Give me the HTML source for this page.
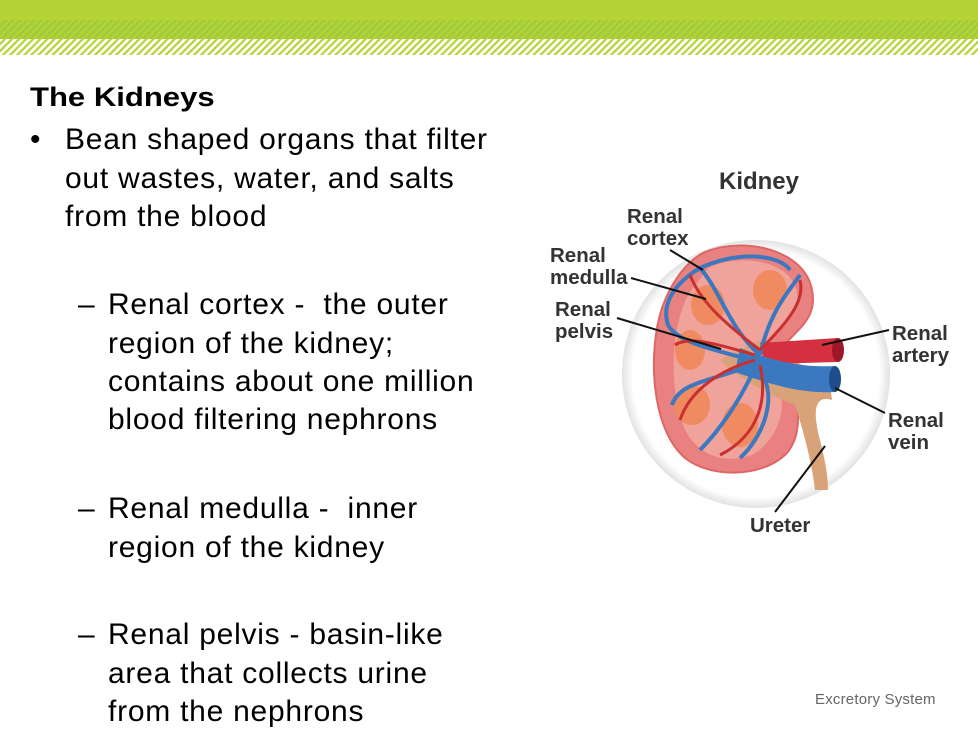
<!DOCTYPE html>
<html><head><meta charset="utf-8"><style>
body{margin:0;width:978px;height:734px;overflow:hidden;background:#fff;position:relative;font-family:"Liberation Sans",sans-serif;color:#000}
.t{position:absolute;white-space:nowrap;font-size:30px;line-height:1;letter-spacing:0.75px;transform-origin:0 0}
</style></head><body>
<svg width="978" height="60" style="position:absolute;left:0;top:0">
<defs><pattern id="st" width="5" height="5" patternUnits="userSpaceOnUse" patternTransform="rotate(45)"><rect width="2.2" height="5" fill="#b5d334"/></pattern></defs>
<rect x="0" y="0" width="978" height="20" fill="#b5d334"/>
<rect x="0" y="20" width="978" height="19" fill="#9fcb3c"/>
<rect x="0" y="20" width="978" height="19" fill="url(#st)"/>
<rect x="0" y="39" width="978" height="16" fill="url(#st)"/>
</svg>
<div class="t" style="left:30px;top:84px;font-size:27px;font-weight:bold;letter-spacing:0;transform:scaleX(1.15)">The Kidneys</div>
<div class="t" style="left:30px;top:125px">•</div>
<div class="t" style="left:65px;top:125px">Bean shaped organs that filter</div>
<div class="t" style="left:65px;top:164px">out wastes, water, and salts</div>
<div class="t" style="left:65px;top:202px">from the blood</div>
<div class="t" style="left:78px;top:290px">–</div>
<div class="t" style="left:108px;top:290px">Renal cortex -&nbsp; the outer</div>
<div class="t" style="left:108px;top:329px">region of the kidney;</div>
<div class="t" style="left:108px;top:367px">contains about one million</div>
<div class="t" style="left:108px;top:405px">blood filtering nephrons</div>
<div class="t" style="left:78px;top:494px">–</div>
<div class="t" style="left:108px;top:494px">Renal medulla -&nbsp; inner</div>
<div class="t" style="left:108px;top:533px">region of the kidney</div>
<div class="t" style="left:78px;top:620px">–</div>
<div class="t" style="left:108px;top:620px">Renal pelvis - basin-like</div>
<div class="t" style="left:108px;top:659px">area that collects urine</div>
<div class="t" style="left:108px;top:697px">from the nephrons</div>
<div class="t" style="left:815px;top:692px;font-size:15px;letter-spacing:0.2px;color:#666">Excretory System</div>

<svg width="978" height="734" style="position:absolute;left:0;top:0" font-family="Liberation Sans" font-weight="bold" fill="#333">
<defs><radialGradient id="g" cx="0.5" cy="0.5" r="0.5"><stop offset="0.92" stop-color="#fff"/><stop offset="1" stop-color="#e2e2e2"/></radialGradient></defs>
<circle cx="756" cy="374" r="134" fill="url(#g)"/>
<path d="M705 252 C745 236 805 250 812 290 C818 320 795 330 785 345 L795 395 C800 415 800 440 785 455 C760 478 710 478 685 458 C650 428 648 350 662 308 C672 280 688 260 705 252 Z" fill="#e8817f" stroke="#d66" stroke-width="2"/>
<path d="M708 268 C742 252 792 262 797 292 C801 318 776 326 764 345 L780 390 C786 410 778 440 752 455 C720 466 692 452 682 422 C668 380 672 322 690 292 Z" fill="#f0a39a"/>
<g fill="#f08a60"><ellipse cx="708" cy="305" rx="17" ry="20"/><ellipse cx="770" cy="290" rx="17" ry="20"/><ellipse cx="690" cy="350" rx="15" ry="20"/><ellipse cx="692" cy="405" rx="18" ry="20"/><ellipse cx="740" cy="425" rx="18" ry="22"/></g>
<path d="M760 340 C780 350 810 370 830 385 L832 400 C815 395 812 410 820 440 C825 460 828 475 828 490 L815 490 C812 460 800 420 795 405 C770 395 740 380 720 360 Z" fill="#d9a37a"/>
<path d="M760 343 L838 338 L838 362 L765 364 Z" fill="#d43040"/>
<ellipse cx="838" cy="350" rx="6" ry="12" fill="#a01828"/>
<path d="M740 348 C770 360 800 368 835 366 L835 392 C800 394 770 384 735 372 Z" fill="#3b78c0"/>
<ellipse cx="835" cy="379" rx="6" ry="13" fill="#1e4d8a"/>
<g fill="none" stroke="#3b78c0" stroke-width="4"><path d="M760 355 C730 330 720 290 700 268"/><path d="M760 355 C770 310 790 290 800 275"/><path d="M750 360 C720 350 680 345 668 325"/><path d="M750 365 C720 380 680 380 672 405"/><path d="M755 368 C740 400 720 430 700 450"/><path d="M760 370 C780 400 760 440 740 458"/><path d="M700 268 C740 250 780 255 790 270"/><path d="M668 325 C660 300 680 280 700 268"/></g>
<g fill="none" stroke="#c83030" stroke-width="3"><path d="M760 350 C720 320 700 300 690 275"/><path d="M760 350 C790 320 805 300 800 280"/><path d="M755 360 C720 370 690 390 680 420"/><path d="M760 365 C770 410 750 440 720 455"/><path d="M755 355 C720 345 690 335 675 345"/></g>
<g stroke="#111" stroke-width="2" fill="none">
<line x1="670" y1="250" x2="703" y2="270"/>
<line x1="631" y1="278" x2="706" y2="299"/>
<line x1="617" y1="318" x2="721" y2="349"/>
<line x1="889" y1="330" x2="822" y2="345"/>
<line x1="885" y1="413" x2="835" y2="388"/>
<line x1="775" y1="512" x2="825" y2="446"/>
</g>
<text x="759" y="189" font-size="24" text-anchor="middle">Kidney</text>
<g font-size="20.5"><text x="627" y="223">Renal</text><text x="627" y="245">cortex</text>
<text x="550" y="262">Renal</text><text x="550" y="284">medulla</text>
<text x="555" y="316">Renal</text><text x="555" y="338">pelvis</text>
<text x="892" y="340">Renal</text><text x="892" y="362">artery</text>
<text x="888" y="427">Renal</text><text x="888" y="449">vein</text>
<text x="750" y="532">Ureter</text></g>
</svg>
</body></html>
